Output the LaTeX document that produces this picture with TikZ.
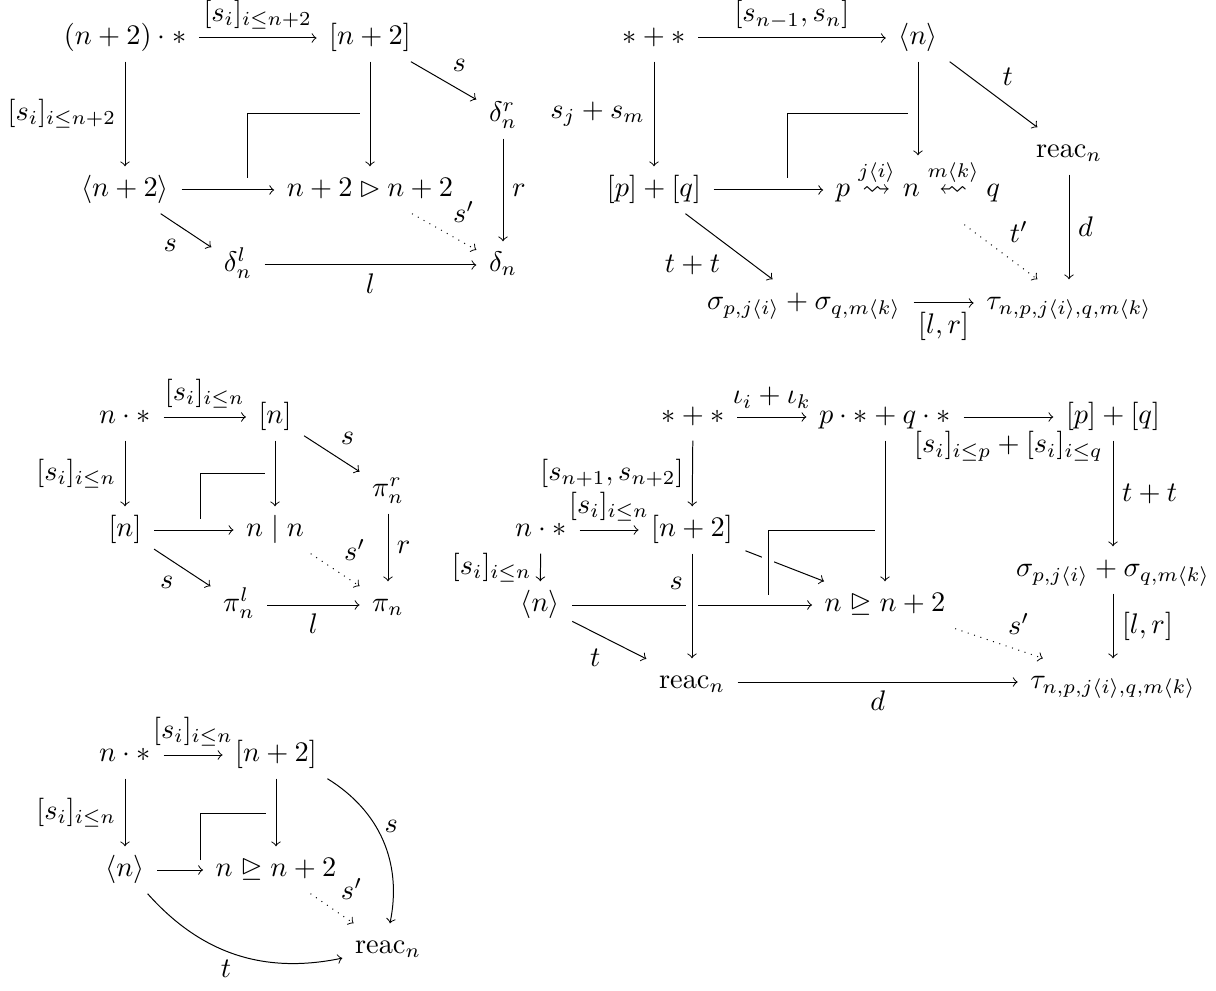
\documentclass[tikz,border=0pt]{standalone}
\usepackage{amsmath,amssymb,graphicx}
\newcommand{\lsqarrow}{\mathrel{\reflectbox{$\rightsquigarrow$}}}
\begin{document}
\begin{tikzpicture}[x=0.353pt,y=-0.353pt,line width=0.35pt,
  cell/.style={inner xsep=1ex,inner ysep=0.85ex,text height=1.6ex,text depth=0.5ex},
  arr/.style={->},
  dotarr/.style={->,dotted},
  lbl/.style={inner sep=3pt},
  halo/.style={preaction={draw=white,line width=4pt,-}}]
\useasboundingbox (0,0) rectangle (1216,991);

% ---------------- Diagram 1 ----------------
\node[cell] (d1a) at (125,38) {$(n+2)\cdot *$};
\node[cell] (d1b) at (370,38) {$[n+2]$};
\node[cell] (d1c) at (125,190) {$\langle n+2\rangle$};
\node[cell] (d1d) at (370,190) {$n+2\rhd n+2$};
\node[cell] (d1r) at (503,115) {$\delta^r_n$};
\node[cell] (d1l) at (238,265) {$\delta^l_n$};
\node[cell] (d1e) at (503,265) {$\delta_n$};
\draw[arr] (d1a) -- node[lbl,above]{$[s_i]_{i\leq n+2}$} (d1b);
\draw[arr] (d1a) -- node[lbl,left]{$[s_i]_{i\leq n+2}$} (d1c);
\draw[arr] (d1b) -- node[lbl,anchor=south west]{$s$} (d1r);
\draw[arr] (d1c) -- (d1d);
\draw[arr] (d1b) -- (d1d);
\draw[arr] (d1c) -- node[lbl,anchor=north east]{$s$} (d1l);
\draw[arr] (d1l) -- node[lbl,below]{$l$} (d1e);
\draw[arr] (d1r) -- node[lbl,right]{$r$} (d1e);
\draw[dotarr] (d1d) -- node[lbl,anchor=south west]{$s'$} (d1e);
\coordinate (d1k1) at (247,178);
\coordinate (d1k2) at (247,114);
\coordinate (d1k3) at (360,114);
\draw (d1k1) -- (d1k2) -- (d1k3);

% ---------------- Diagram 2 ----------------
\node[cell] (d2a) at (654,38) {$*+*$};
\node[cell] (d2b) at (918,38) {$\langle n\rangle$};
\node[cell] (d2c) at (654,190) {$[p]+[q]$};
\node[cell,text height=2.5ex,text depth=1.4ex] (d2d) at (918,190)
  {$p\overset{j\langle i\rangle}{\rightsquigarrow} n \overset{m\langle k\rangle}{\lsqarrow} q$};
\node[cell] (d2r) at (1069,151) {$\mathrm{reac}_n$};
\node[cell] (d2s) at (804,303) {$\sigma_{p,j\langle i\rangle}+\sigma_{q,m\langle k\rangle}$};
\node[cell] (d2t) at (1069,303) {$\tau_{n,p,j\langle i\rangle,q,m\langle k\rangle}$};
\draw[arr] (d2a) -- node[lbl,above]{$[s_{n-1},s_n]$} (d2b);
\draw[arr] (d2a) -- node[lbl,left]{$s_j+s_m$} (d2c);
\draw[arr] (d2b) -- node[lbl,anchor=south west]{$t$} (d2r);
\draw[arr] (d2b) -- (d2d);
\draw[arr] (d2c) -- (d2d);
\draw[arr] (d2c) -- node[lbl,anchor=north east]{$t+t$} (d2s);
\draw[arr] (d2r) -- node[lbl,right]{$d$} (d2t);
\draw[dotarr] (d2d) -- node[lbl,anchor=south west]{$t'$} (d2t);
\draw[arr] (d2s) -- node[lbl,below]{$[l,r]$} (d2t);
\coordinate (d2k1) at (787,178);
\coordinate (d2k2) at (787,114);
\coordinate (d2k3) at (908,114);
\draw (d2k1) -- (d2k2) -- (d2k3);

% ---------------- Diagram 3 ----------------
\node[cell] (d3a) at (125,417) {$n\cdot *$};
\node[cell] (d3b) at (275,417) {$[n]$};
\node[cell] (d3c) at (125,530) {$[n]$};
\node[cell] (d3d) at (275,530) {$n\mid n$};
\node[cell] (d3r) at (388,490) {$\pi^r_n$};
\node[cell] (d3l) at (239,605) {$\pi^l_n$};
\node[cell] (d3e) at (388,605) {$\pi_n$};
\draw[arr] (d3a) -- node[lbl,above]{$[s_i]_{i\leq n}$} (d3b);
\draw[arr] (d3a) -- node[lbl,left]{$[s_i]_{i\leq n}$} (d3c);
\draw[arr] (d3b) -- node[lbl,anchor=south west]{$s$} (d3r);
\draw[arr] (d3b) -- (d3d);
\draw[arr] (d3c) -- (d3d);
\draw[arr] (d3c) -- node[lbl,anchor=north east]{$s$} (d3l);
\draw[arr] (d3l) -- node[lbl,below]{$l$} (d3e);
\draw[arr] (d3r) -- node[lbl,right]{$r$} (d3e);
\draw[dotarr] (d3d) -- node[lbl,anchor=south west]{$s'$} (d3e);
\coordinate (d3k1) at (200,519);
\coordinate (d3k2) at (200,473);
\coordinate (d3k3) at (265,473);
\draw (d3k1) -- (d3k2) -- (d3k3);

% ---------------- Diagram 4 ----------------
\node[cell] (d4a) at (693,417) {$*+*$};
\node[cell] (d4b) at (885,417) {$p\cdot *+q\cdot *$};
\node[cell] (d4c) at (1113,417) {$[p]+[q]$};
\node[cell] (d4p) at (541,530) {$n\cdot *$};
\node[cell] (d4q) at (692,530) {$[n+2]$};
\node[cell] (d4r) at (540,605) {$\langle n\rangle$};
\node[cell] (d4s) at (885,605) {$n\trianglerighteq n+2$};
\node[cell] (d4x) at (1113,570) {$\sigma_{p,j\langle i\rangle}+\sigma_{q,m\langle k\rangle}$};
\node[cell] (d4y) at (1113,682) {$\tau_{n,p,j\langle i\rangle,q,m\langle k\rangle}$};
\node[cell] (d4z) at (692,682) {$\mathrm{reac}_n$};
\draw[arr] (d4a) -- node[lbl,above]{$\iota_i+\iota_k$} (d4b);
\draw[arr] (d4b) -- node[lbl,below,yshift=-2pt]{$[s_i]_{i\leq p}+[s_i]_{i\leq q}$} (d4c);
\draw[arr] (d4c) -- node[lbl,right]{$t+t$} (d4x);
\draw[arr] (d4x) -- node[lbl,right]{$[l,r]$} (d4y);
\draw[arr] (d4a) -- node[lbl,left]{$[s_{n+1},s_{n+2}]$} (d4q);
\draw[arr] (d4p) -- node[lbl,above]{$[s_i]_{i\leq n}$} (d4q);
\draw[arr] (d4p) -- node[lbl,left]{$[s_i]_{i\leq n}$} (d4r);
\draw[arr] (d4b) -- (d4s);
\draw[arr] (d4r) -- (d4s);
\draw[arr,halo] (d4q) -- node[lbl,left,pos=0.28]{$s$} (d4z);
\draw[arr] (d4q) -- (d4s);
\coordinate (d4k1) at (768,595);
\coordinate (d4k2) at (768,530);
\coordinate (d4k3) at (875,530);
\draw[halo] (d4k1) -- (d4k2) -- (d4k3);
\draw[arr] (d4r) -- node[lbl,anchor=north east]{$t$} (d4z);
\draw[arr] (d4z) -- node[lbl,below]{$d$} (d4y);
\draw[dotarr] (d4s) -- node[lbl,anchor=south west]{$s'$} (d4y);

% ---------------- Diagram 5 ----------------
\node[cell] (d5a) at (125,755) {$n\cdot *$};
\node[cell] (d5b) at (276,755) {$[n+2]$};
\node[cell] (d5c) at (125,870) {$\langle n\rangle$};
\node[cell] (d5d) at (276,870) {$n\trianglerighteq n+2$};
\node[cell] (d5e) at (388,947) {$\mathrm{reac}_n$};
\draw[arr] (d5a) -- node[lbl,above]{$[s_i]_{i\leq n}$} (d5b);
\draw[arr] (d5a) -- node[lbl,left]{$[s_i]_{i\leq n}$} (d5c);
\draw[arr] (d5c) -- (d5d);
\draw[arr] (d5b) -- (d5d);
\draw[arr] (d5b) to[bend left=35] node[lbl,right,pos=0.4]{$s$} (d5e);
\draw[arr] (d5c) to[bend right=30] node[lbl,below,pos=0.45]{$t$} (d5e);
\draw[dotarr] (d5d) -- node[lbl,anchor=south west]{$s'$} (d5e);
\coordinate (d5k1) at (200,860);
\coordinate (d5k2) at (200,813);
\coordinate (d5k3) at (266,813);
\draw (d5k1) -- (d5k2) -- (d5k3);
\end{tikzpicture}
\end{document}
